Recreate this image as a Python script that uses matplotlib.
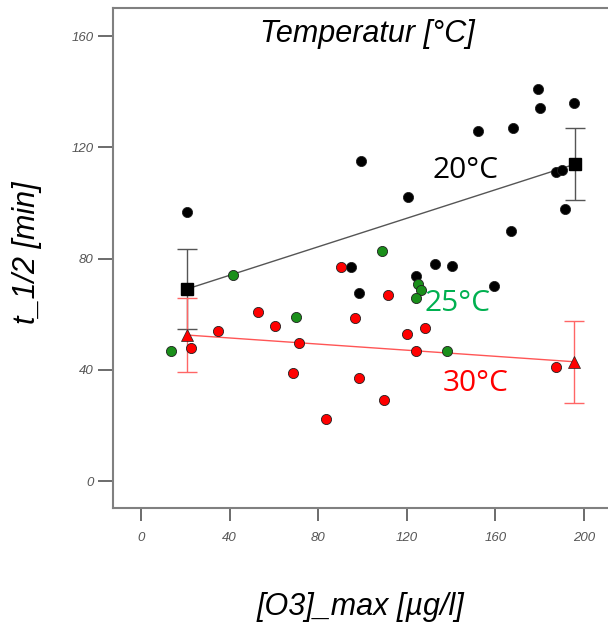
import matplotlib
matplotlib.use("Agg")
import matplotlib.pyplot as plt

# ---- data ----
black_x = [179.3, 180.0, 195.5, 152.0, 168.0, 99.5, 120.7, 187.4, 190.0, 20.7,
           191.4, 167.0, 94.6, 132.8, 140.5, 124.3, 98.6, 159.5]
black_y = [140.9, 134.0, 136.0, 126.0, 127.0, 115.0, 102.0, 111.0, 112.0, 96.6,
           98.0, 90.0, 76.8, 78.0, 77.5, 73.9, 67.8, 70.0]

green_x = [41.4, 108.6, 125.2, 126.6, 124.3, 69.8, 13.5, 138.3]
green_y = [74.2, 82.9, 71.0, 68.8, 65.9, 59.1, 46.8, 46.8]

red_x = [90.5, 111.3, 52.7, 96.4, 60.4, 34.7, 128.4, 120.3, 71.2, 124.3,
         22.5, 187.4, 68.5, 98.6, 109.5, 83.3]
red_y = [77.1, 67.0, 60.9, 58.7, 55.9, 54.0, 55.1, 52.9, 49.7, 46.8,
         48.0, 41.1, 38.9, 37.1, 29.2, 22.3]

mean20_x = [20.9, 196.0]
mean20_y = [69.1, 114.0]
err20 = [14.4, 12.8]

mean30_x = [20.9, 195.5]
mean30_y = [52.5, 42.9]
err30 = [13.3, 14.7]

xticks = [0, 40, 80, 120, 160, 200]
yticks = [0, 40, 80, 120, 160]

title = "Temperatur [°C]"
xlabel = "[O3]_max [µg/l]"
ylabel = "t_1/2 [min]"
labels = ["20°C", "25°C", "30°C"]

# ---- figure ----
W, H = 608, 626
fig = plt.figure(figsize=(W / 100, H / 100), dpi=100)
left_px, right_px, top_px, bottom_px = 113, 608, 8, 508
ax = fig.add_axes([left_px / W, 1 - bottom_px / H,
                   (right_px - left_px) / W, (bottom_px - top_px) / H])

x0_px, xscale = 141, 2.215
y0_px, yscale = 481, 2.78
ax.set_xlim((left_px - x0_px) / xscale, (right_px - x0_px) / xscale)
ax.set_ylim((y0_px - bottom_px) / yscale, (y0_px - top_px) / yscale)

spine_c = "#808080"
for s in ["left", "bottom", "top"]:
    ax.spines[s].set_color(spine_c)
    ax.spines[s].set_linewidth(1.5)
ax.spines["right"].set_visible(False)

ax.set_xticks(xticks)
ax.set_yticks(yticks)
ax.tick_params(axis="both", colors="#606060", width=1.3, labelcolor="#555555",
               labelsize=9.5)
ax.tick_params(axis="x", length=9, pad=8)
ax.tick_params(axis="y", length=11, pad=3)
for lab in ax.get_xticklabels() + ax.get_yticklabels():
    lab.set_fontstyle("italic")
    lab.set_family("Liberation Sans")

# regression lines (between the group means)
ax.plot(mean20_x, mean20_y, color="#555555", lw=1.0, zorder=2)
ax.plot(mean30_x, mean30_y, color="#ff5555", lw=1.0, zorder=2)

# error bars
ax.errorbar(mean20_x, mean20_y, yerr=err20, fmt="none", ecolor="#555555",
            elinewidth=1.0, capsize=7.5, capthick=1.0, zorder=3)
ax.errorbar(mean30_x, mean30_y, yerr=err30, fmt="none", ecolor="#ff6666",
            elinewidth=1.0, capsize=7.5, capthick=1.0, zorder=3)

ms = 7.3
ax.plot(black_x, black_y, "o", color="black", mec="#202020", mew=0.6, ms=ms, zorder=4)
ax.plot(green_x, green_y, "o", color="#1a8f1a", mec="#202020", mew=0.6, ms=ms, zorder=4)
ax.plot(red_x, red_y, "o", color="#ff0000", mec="#202020", mew=0.6, ms=ms, zorder=4)

ax.plot(mean20_x, mean20_y, "s", color="black", ms=8, zorder=5)
ax.plot(mean30_x, mean30_y, "^", color="#ff0000", mec="#202020", mew=0.5, ms=8.5, zorder=5)

# group labels
lab_font = "Open Sans"
ax.text(146.3, 111.7, labels[0], color="black", fontsize=21.5, family=lab_font,
        ha="center", va="center", zorder=6)
ax.text(143.1, 63.8, labels[1], color="#00b050", fontsize=21.5, family=lab_font,
        ha="center", va="center", zorder=6)
ax.text(151.2, 35.0, labels[2], color="#ff0000", fontsize=21.5, family=lab_font,
        ha="center", va="center", zorder=6)

# title inside plot
fig.text(367 / W, 1 - 34 / H, title, fontsize=22, fontstyle="italic",
         family="Liberation Sans", ha="center", va="center")

# axis labels
fig.text(360 / W, 1 - 607 / H, xlabel, fontsize=22, fontstyle="italic",
         family="Liberation Sans", ha="center", va="center")
fig.text(27 / W, 1 - 253 / H, ylabel, fontsize=22, fontstyle="italic",
         family="Liberation Sans", ha="center", va="center", rotation=90)

fig.savefig("out.png", dpi=100)
